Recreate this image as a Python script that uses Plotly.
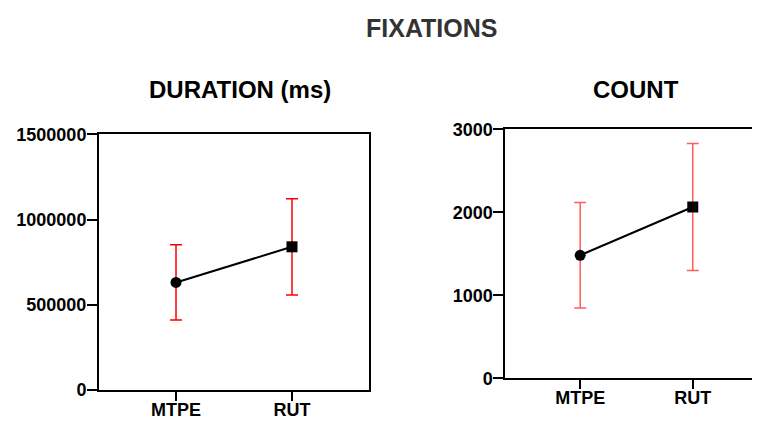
import plotly.graph_objects as go

categories = ["MTPE", "RUT"]
duration_mean = [631000, 840000]
duration_err = [221000, 282000]
count_mean = [1482, 2064]
count_err = [635, 765]
duration_ticks = [0, 500000, 1000000, 1500000]
count_ticks = [0, 1000, 2000, 3000]

FONT = "Liberation Sans"
OFF = 8  # page body margin
W, H = 760 - OFF, 421 - OFF


def px(x):
    return (x - OFF) / W


def py(y):
    return 1 - (y - OFF) / H


fig = go.Figure()

fig.add_trace(go.Scatter(
    x=categories, y=duration_mean, mode="lines+markers",
    line=dict(color="black", width=2),
    marker=dict(symbol=["circle", "square"], size=11, color="black"),
    error_y=dict(type="data", array=duration_err, color="#ff0000", thickness=1.5, width=6),
    xaxis="x", yaxis="y", showlegend=False, cliponaxis=False,
))
fig.add_trace(go.Scatter(
    x=categories, y=count_mean, mode="lines+markers",
    line=dict(color="black", width=2),
    marker=dict(symbol=["circle", "square"], size=11, color="black"),
    error_y=dict(type="data", array=count_err, color="#ff5c5c", thickness=1.5, width=6),
    xaxis="x2", yaxis="y2", showlegend=False, cliponaxis=False,
))

tickfont = dict(family=FONT, size=18, color="black", weight="bold")
common_x = dict(type="category", showgrid=False, zeroline=False, showline=True,
                linecolor="black", linewidth=2, ticks="outside", ticklen=9,
                tickwidth=2, tickcolor="black", tickfont=tickfont, mirror=True,
                automargin=False, ticklabelstandoff=-7)
common_y = dict(showgrid=False, zeroline=False, showline=True, linecolor="black",
                linewidth=2, ticks="outside", ticklen=10, tickwidth=2,
                tickcolor="black", tickfont=tickfont, automargin=False,
                ticklabelstandoff=-3)

fig.update_layout(
    width=W, height=H,
    margin=dict(l=0, r=0, t=0, b=0, autoexpand=False),
    paper_bgcolor="white", plot_bgcolor="white",
    xaxis=dict(common_x, domain=[px(99), px(369)], range=[-0.664, 1.664], anchor="y"),
    yaxis=dict(common_y, domain=[py(390), py(134.3)], range=[0, 1500000],
               tickvals=duration_ticks, ticktext=[str(v) for v in duration_ticks],
               mirror=True, anchor="x"),
    xaxis2=dict(common_x, domain=[px(505.3), 1.0], range=[-0.665, 1.597], anchor="y2"),
    yaxis2=dict(common_y, domain=[py(378.3), py(129.3)], range=[0, 3000],
                tickvals=count_ticks, ticktext=[str(v) for v in count_ticks],
                mirror=False, anchor="x2"),
    annotations=[
        dict(text="FIXATIONS", x=px(431), y=py(28), xref="paper", yref="paper",
             showarrow=False, xanchor="center", yanchor="middle",
             font=dict(family=FONT, size=25, color="#333333", weight="bold")),
        dict(text="DURATION (ms)", x=px(240), y=py(90), xref="paper", yref="paper",
             showarrow=False, xanchor="center", yanchor="middle",
             font=dict(family=FONT, size=24, color="black", weight="bold")),
        dict(text="COUNT", x=px(636), y=py(89), xref="paper", yref="paper",
             showarrow=False, xanchor="center", yanchor="middle",
             font=dict(family=FONT, size=24, color="black", weight="bold")),
    ],
)

fig.write_html("out.html")
